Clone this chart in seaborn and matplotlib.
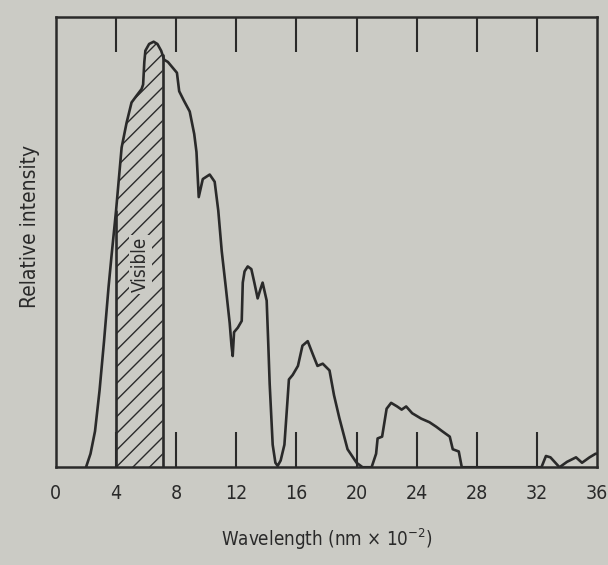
import numpy as np
import matplotlib
matplotlib.use('Agg')
import matplotlib.pyplot as plt
import seaborn as sns

# ─────────────────────────────────────────────
# DATA
# ─────────────────────────────────────────────
wavelength = [2.0, 2.3, 2.6, 2.9, 3.2, 3.5, 3.7, 4.0, 4.37, 4.7,
              5.03, 5.36, 5.7, 5.8, 5.88, 5.95, 6.2, 6.5, 6.75, 7.0,
              7.1, 7.2, 7.45, 8.05, 8.2, 8.5, 8.9, 9.2, 9.35, 9.5,
              9.77, 10.23, 10.56, 10.8, 11.03, 11.3, 11.56, 11.68, 11.76, 11.85,
              12.1, 12.36, 12.43, 12.55, 12.76, 13.0, 13.2, 13.42, 13.6, 13.75,
              14.02, 14.12, 14.22, 14.42, 14.6, 14.75, 14.95, 15.2, 15.4, 15.5,
              15.75, 16.1, 16.4, 16.75, 17.1, 17.4, 17.75, 18.2, 18.5, 18.85,
              19.4, 20.0, 20.4, 21.0, 21.3, 21.4, 21.7, 22.0, 22.3, 22.7,
              23.0, 23.3, 23.7, 24.3, 24.85, 25.3, 25.7, 26.2, 26.4, 26.8,
              27.0, 32.3, 32.6, 32.9, 33.5, 34.0, 34.6, 35.0, 35.5, 35.9,
              36.0]
intensity = [0.0, 0.03, 0.08, 0.17, 0.28, 0.40, 0.47, 0.57, 0.71, 0.765,
             0.81, 0.825, 0.84, 0.85, 0.90, 0.925, 0.94, 0.945, 0.94, 0.925,
             0.915, 0.905, 0.90, 0.876, 0.835, 0.815, 0.79, 0.74, 0.70, 0.60,
             0.64, 0.65, 0.634, 0.57, 0.48, 0.40, 0.32, 0.27, 0.247, 0.30,
             0.31, 0.325, 0.41, 0.435, 0.446, 0.44, 0.41, 0.375, 0.395, 0.41,
             0.37, 0.28, 0.185, 0.05, 0.01, 0.003, 0.015, 0.05, 0.146, 0.195,
             0.205, 0.225, 0.27, 0.28, 0.25, 0.225, 0.23, 0.215, 0.16, 0.11,
             0.04, 0.01, 0.0, 0.0, 0.03, 0.064, 0.068, 0.13, 0.143, 0.135,
             0.128, 0.135, 0.12, 0.108, 0.10, 0.09, 0.08, 0.068, 0.04, 0.035,
             0.0, 0.0, 0.025, 0.022, 0.0, 0.012, 0.022, 0.01, 0.022, 0.03,
             0.03]

visible_band = (4.0, 7.1)
tick_pos = [0, 4, 8, 12, 16, 20, 24, 28, 32, 36]
tick_labels = ['0', '4', '8', '12', '16', '20', '24', '28', '32', '36']

# ─────────────────────────────────────────────
# STYLE
# ─────────────────────────────────────────────
paper = '#cbcbc5'
ink = '#2a2a2a'
sns.set_style('white')
plt.rcParams['font.family'] = ['DejaVu Sans']
plt.rcParams['font.stretch'] = 'condensed'
plt.rcParams['hatch.linewidth'] = 1.0
plt.rcParams['hatch.color'] = ink

fig = plt.figure(figsize=(6.08, 5.65), dpi=100, facecolor=paper)
ax = fig.add_axes([0.092, 0.173, 0.89, 0.797])
ax.set_facecolor(paper)

# ─────────────────────────────────────────────
# SPECTRUM
# ─────────────────────────────────────────────
wl = np.array(wavelength)
it = np.array(intensity)
sns.lineplot(x=wl, y=it, ax=ax, color=ink, linewidth=1.9, sort=False)

# hatched visible band
mask = (wl >= visible_band[0]) & (wl <= visible_band[1])
ax.fill_between(wl[mask], 0, it[mask], facecolor='none', edgecolor=ink,
                hatch='//', linewidth=0)
for xv in visible_band:
    ax.plot([xv, xv], [0, it[wl == xv][0]], color=ink, linewidth=1.9)

ax.text(5.65, 0.45, 'Visible', rotation=90, ha='center', va='center',
        fontsize=13.5, color=ink,
        bbox=dict(facecolor=paper, edgecolor='none', pad=1.5))

# ─────────────────────────────────────────────
# AXES
# ─────────────────────────────────────────────
ax.set_xlim(0, 36)
ax.set_ylim(0, 1.0)
ax.set_xticks(tick_pos)
ax.set_xticklabels(tick_labels, fontsize=14, color=ink)
ax.tick_params(axis='x', which='major', direction='in', length=25, width=1.5,
               color=ink, top=True, bottom=True, pad=12)
# no tick marks on the frame corners
for t in (ax.xaxis.get_major_ticks()[0], ax.xaxis.get_major_ticks()[-1]):
    t.tick1line.set_visible(False)
    t.tick2line.set_visible(False)
ax.set_yticks([])
for s in ax.spines.values():
    s.set_color(ink)
    s.set_linewidth(1.8)

ax.set_xlabel('Wavelength (nm × 10$^{-2}$)', fontsize=13.5, color=ink, labelpad=17)
ax.set_ylabel('Relative intensity', fontsize=15, color=ink)
ax.yaxis.set_label_coords(-0.03, 0.535)

plt.savefig('out.png', dpi=100, facecolor=paper)
plt.close()
print("Saved: out.png")
